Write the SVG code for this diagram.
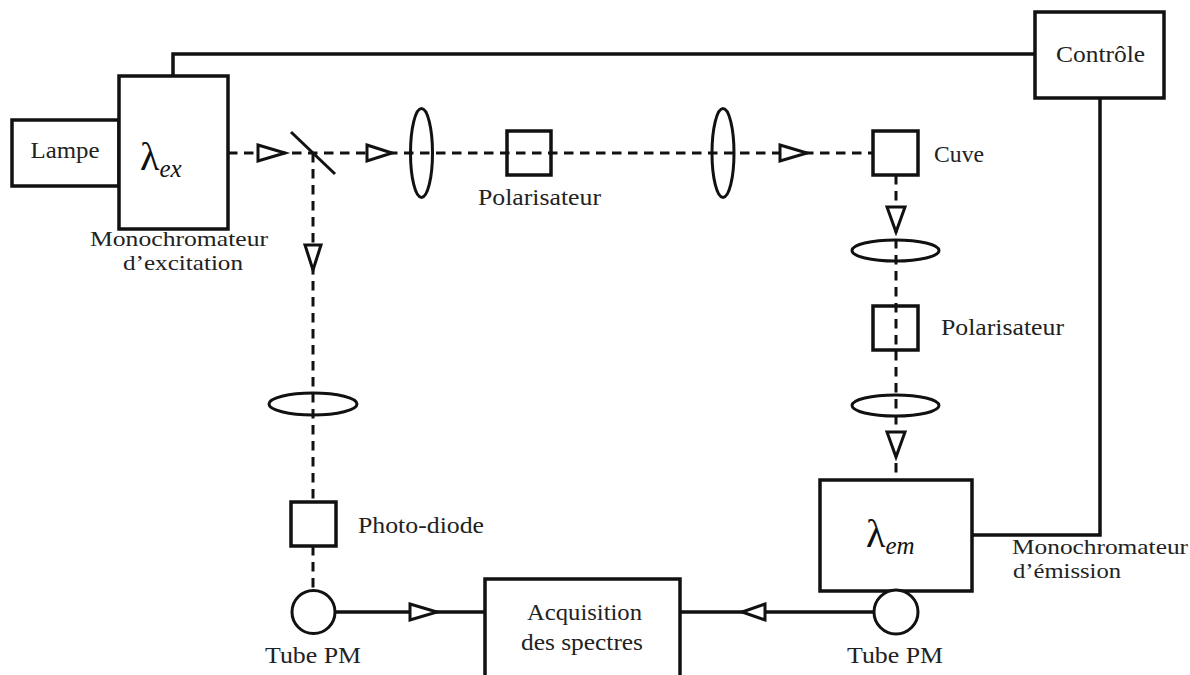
<svg xmlns="http://www.w3.org/2000/svg" width="1190" height="675" viewBox="0 0 1190 675">
<style>
.box{fill:#fff;stroke:#111;stroke-width:3.5;stroke-linejoin:miter}
.lens{fill:none;stroke:#111;stroke-width:3}
.beam{fill:none;stroke:#111;stroke-width:3;stroke-dasharray:9.5,6.5}
.wire{fill:none;stroke:#111;stroke-width:3.5}
.arr{fill:#fff;stroke:#111;stroke-width:3;stroke-linejoin:miter}
text{font-family:'Liberation Serif','DejaVu Serif',serif}
.t{font-size:24px;fill:#222}
.t2{font-size:22px;fill:#222}
.lam{font-size:40px;fill:#111}
.sub{font-style:italic;font-size:25px;fill:#111}
</style>
<rect width="1190" height="675" fill="#fff"/>
<g id="connectors">
  <path class="beam" d="M228,153 H873"/>
  <path class="beam" d="M313,153 V502"/>
  <path class="beam" d="M313,546 V590"/>
  <path class="beam" d="M896,175 V480"/>
  <path class="wire" d="M173,76 V54 H1035"/>
  <path class="wire" d="M1100,98 V535 H972"/>
  <path class="wire" d="M335,612 H485"/>
  <path class="wire" d="M874,612 H680"/>
  <polygon class="arr" points="258,145 285,153 258,161"/>
  <polygon class="arr" points="367,145 392,153 367,161"/>
  <polygon class="arr" points="780,145 807,153 780,161"/>
  <polygon class="arr" points="305,245 313,270 321,245"/>
  <polygon class="arr" points="887,207 896,232 905,207"/>
  <polygon class="arr" points="887,432 896,457 905,432"/>
  <polygon class="arr" points="410,604 437,612 410,620"/>
  <polygon class="arr" points="765,604 742,612 765,620"/>
</g>
<g id="lampe">
  <rect class="box" x="12" y="120" width="107" height="66"/>
  <text class="t" x="65" y="158" text-anchor="middle" textLength="69" lengthAdjust="spacingAndGlyphs">Lampe</text>
</g>
<g id="mono-ex">
  <rect class="box" x="119" y="76" width="109" height="153"/>
  <text x="140" y="170"><tspan class="lam">λ</tspan><tspan class="sub" dy="7">ex</tspan></text>
  <text class="t2" x="90" y="246" textLength="178" lengthAdjust="spacingAndGlyphs">Monochromateur</text>
  <text class="t2" x="123" y="270" textLength="120" lengthAdjust="spacingAndGlyphs">d’excitation</text>
</g>
<g id="miroir">
  <line x1="291" y1="132" x2="335" y2="174" stroke="#111" stroke-width="3"/>
</g>
<g id="lentille1"><ellipse class="lens" cx="421.5" cy="153" rx="11" ry="44.5"/></g>
<g id="polarisateur1">
  <rect class="box" x="507" y="131" width="44" height="44" style="fill:none"/>
  <text class="t" x="478" y="205" textLength="123" lengthAdjust="spacingAndGlyphs">Polarisateur</text>
</g>
<g id="lentille2"><ellipse class="lens" cx="723" cy="153" rx="11" ry="44.5"/></g>
<g id="cuve">
  <rect class="box" x="873" y="131" width="45" height="44"/>
  <text class="t" x="934" y="162" textLength="50" lengthAdjust="spacingAndGlyphs">Cuve</text>
</g>
<g id="controle">
  <rect class="box" x="1035" y="12" width="129" height="86"/>
  <text class="t" x="1056" y="62" textLength="89" lengthAdjust="spacingAndGlyphs">Contrôle</text>
</g>
<g id="lentille3"><ellipse class="lens" cx="895.5" cy="250.5" rx="43.5" ry="10.5"/></g>
<g id="polarisateur2">
  <rect class="box" x="873" y="306" width="45" height="44" style="fill:none"/>
  <text class="t" x="941" y="335" textLength="123" lengthAdjust="spacingAndGlyphs">Polarisateur</text>
</g>
<g id="lentille4"><ellipse class="lens" cx="895.5" cy="405.5" rx="43.5" ry="10.5"/></g>
<g id="mono-em">
  <rect class="box" x="820" y="480" width="152" height="111"/>
  <text x="866" y="547"><tspan class="lam">λ</tspan><tspan class="sub" dy="7">em</tspan></text>
  <text class="t2" x="1012" y="554" textLength="176" lengthAdjust="spacingAndGlyphs">Monochromateur</text>
  <text class="t2" x="1013" y="578" textLength="108" lengthAdjust="spacingAndGlyphs">d’émission</text>
</g>
<g id="lentille5"><ellipse class="lens" cx="313" cy="404" rx="44" ry="11"/></g>
<g id="photodiode">
  <rect class="box" x="291" y="502" width="45" height="44"/>
  <text class="t" x="358" y="533" textLength="126" lengthAdjust="spacingAndGlyphs">Photo-diode</text>
</g>
<g id="pm1">
  <circle class="box" cx="313.5" cy="612" r="21.5" style="stroke-width:3"/>
  <text class="t" x="265" y="663" textLength="96" lengthAdjust="spacingAndGlyphs">Tube PM</text>
</g>
<g id="pm2">
  <circle class="box" cx="896" cy="612" r="22" style="stroke-width:3"/>
  <text class="t" x="847" y="663" textLength="96" lengthAdjust="spacingAndGlyphs">Tube PM</text>
</g>
<g id="acquisition">
  <rect class="box" x="485" y="579" width="195" height="120"/>
  <text class="t" x="527" y="620" textLength="115" lengthAdjust="spacingAndGlyphs">Acquisition</text>
  <text class="t" x="521" y="650" textLength="122" lengthAdjust="spacingAndGlyphs">des spectres</text>
</g>
</svg>
